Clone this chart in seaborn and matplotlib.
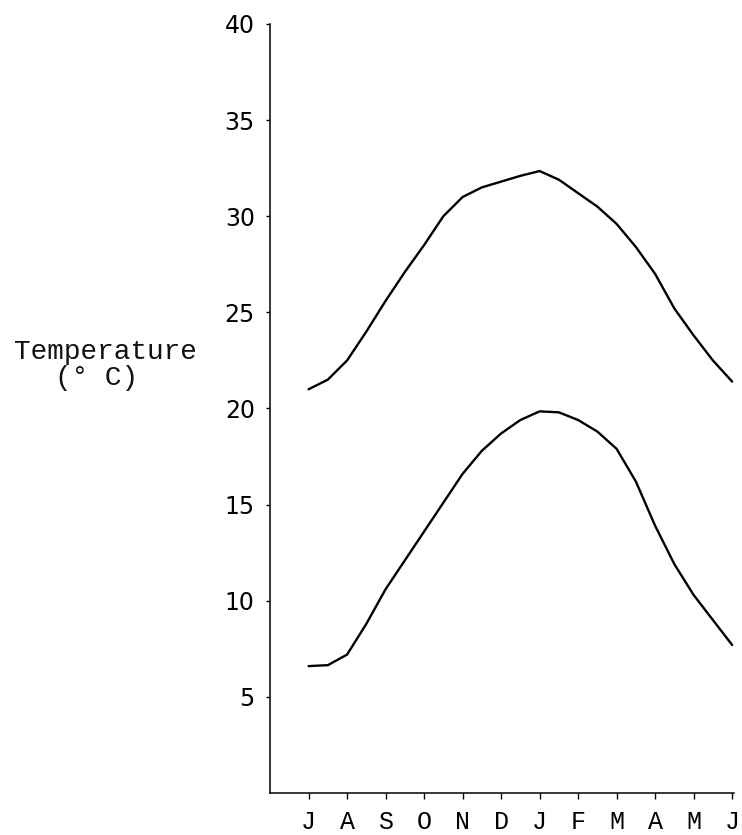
import numpy as np
import pandas as pd
import matplotlib
matplotlib.use("Agg")
import matplotlib.pyplot as plt
import seaborn as sns

# ---- data ----
month_labels = ["J", "A", "S", "O", "N", "D", "J", "F", "M", "A", "M", "J"]
month_ticks = [0, 1, 2, 3, 4, 5, 6, 7, 8, 9, 10, 11]
# positions of readings: monthly and mid-month (in month units from July)
reading_pos = [0, 0.5, 1, 1.5, 2, 2.5, 3, 3.5, 4, 4.5, 5, 5.5,
               6, 6.5, 7, 7.5, 8, 8.5, 9, 9.5, 10, 10.5, 11]
upper_temp = [21.0, 21.5, 22.5, 24.0, 25.6, 27.1, 28.5, 30.0, 31.0, 31.5, 31.8, 32.1,
              32.35, 31.9, 31.2, 30.5, 29.6, 28.4, 27.0, 25.2, 23.8, 22.5, 21.4]
lower_temp = [6.6, 6.65, 7.2, 8.8, 10.6, 12.1, 13.6, 15.1, 16.6, 17.8, 18.7, 19.4,
              19.85, 19.8, 19.4, 18.8, 17.9, 16.2, 13.9, 11.9, 10.3, 9.0, 7.7]
y_ticks = [5, 10, 15, 20, 25, 30, 35, 40]

df = pd.DataFrame({
    "pos": reading_pos * 2,
    "temp": upper_temp + lower_temp,
    "series": ["upper"] * len(upper_temp) + ["lower"] * len(lower_temp),
})

sns.set_style("ticks")
plt.rcParams["font.family"] = ["DejaVu Sans"]

fig = plt.figure(figsize=(7.42, 8.35), dpi=100)
ax = fig.add_axes([0.364, 0.0503, 0.6253, 0.921])

sns.lineplot(data=df, x="pos", y="temp", hue="series", units="series",
             estimator=None, palette={"upper": "black", "lower": "black"},
             linewidth=1.7, legend=False, ax=ax, sort=False)
for ln in ax.lines:
    ln.set_solid_joinstyle("round")
    ln.set_solid_capstyle("round")

ax.set_xlim(-1, 11.05)
ax.set_ylim(0, 40)
sns.despine(ax=ax)
for s in ("left", "bottom"):
    ax.spines[s].set_linewidth(1.1)
    ax.spines[s].set_color("black")

ax.set_yticks(y_ticks)
ax.set_yticklabels([str(v) for v in y_ticks], fontsize=17, color="#1a1a1a")
ax.set_xticks(month_ticks)
ax.set_xticklabels(month_labels, fontsize=18, family="Liberation Mono", color="#111111")
ax.tick_params(axis="y", length=3, width=1.0, pad=8, colors="black")
ax.tick_params(axis="x", length=4, width=1.0, pad=8, colors="black")
ax.set_xlabel("")
ax.set_ylabel("")

fig.text(105 / 742, 1 - 352 / 835, "Temperature", ha="center", va="center",
         fontsize=20, family="Liberation Mono", color="#111111")
fig.text(97 / 742, 1 - 378 / 835, "(\u00b0 C)", ha="center", va="center",
         fontsize=20, family="Liberation Mono", color="#111111")

fig.savefig("out.png", dpi=100, facecolor="white")
